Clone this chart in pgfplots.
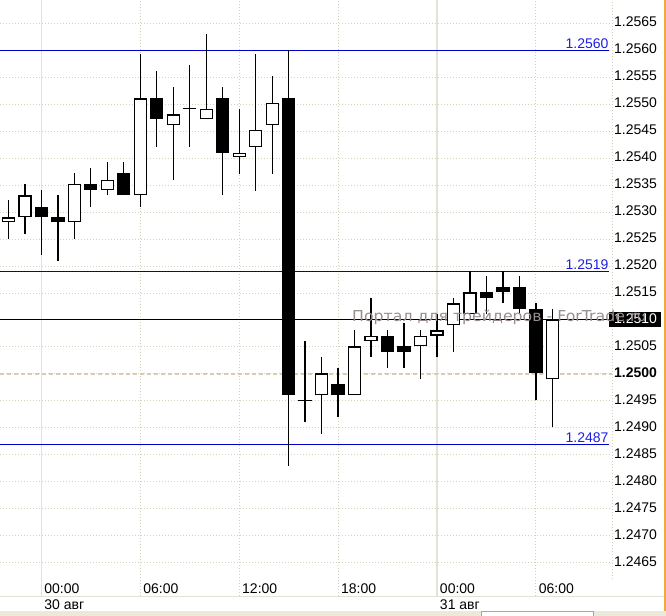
\documentclass[border=0pt]{standalone}
\usepackage{pgfplots}
\pgfplotsset{compat=1.18}
\usepackage{pgfplotstable}
\usepackage{fontspec}
\setmainfont{Liberation Sans}
\newfontfamily\wmfont{DejaVu Sans}
\definecolor{gridc}{RGB}{212,210,186}
\definecolor{dayc}{RGB}{228,226,212}
\definecolor{lvl}{RGB}{0,0,204}
\definecolor{lvltext}{RGB}{30,30,230}
\definecolor{wm}{RGB}{152,140,140}
\definecolor{pivot}{RGB}{214,206,168}
\definecolor{xpgrey}{RGB}{236,233,216}
\definecolor{orangec}{RGB}{240,170,60}

\pgfplotstableread{
x o h l c
-2 1.25281 1.25322 1.25251 1.25290
-1 1.25290 1.25352 1.25260 1.25331
0 1.25310 1.25341 1.25221 1.25290
1 1.25290 1.25331 1.25210 1.25281
2 1.25281 1.25372 1.25251 1.25352
3 1.25352 1.25382 1.25310 1.25341
4 1.25341 1.25392 1.25331 1.25360
5 1.25372 1.25392 1.25331 1.25331
6 1.25331 1.25593 1.25310 1.25511
7 1.25511 1.25562 1.25421 1.25472
8 1.25461 1.25531 1.25360 1.25481
9 1.25492 1.25573 1.25421 1.25492
10 1.25472 1.25631 1.25472 1.25492
11 1.25511 1.25531 1.25331 1.25410
12 1.25402 1.25492 1.25371 1.25410
13 1.25421 1.25593 1.25340 1.25452
14 1.25461 1.25552 1.25371 1.25502
15 1.25511 1.25600 1.24830 1.24960
16 1.24951 1.25061 1.24910 1.24951
17 1.24960 1.25031 1.24889 1.25001
18 1.24981 1.25011 1.24921 1.24960
19 1.24960 1.25081 1.24960 1.25051
20 1.25061 1.25140 1.25031 1.25071
21 1.25071 1.25081 1.25011 1.25041
22 1.25051 1.25094 1.25011 1.25041
23 1.25051 1.25081 1.24990 1.25071
24 1.25071 1.25111 1.25031 1.25081
25 1.25090 1.25140 1.25041 1.25131
26 1.25111 1.25191 1.25111 1.25151
27 1.25151 1.25182 1.25111 1.25140
28 1.25161 1.25191 1.25131 1.25151
29 1.25161 1.25182 1.25111 1.25121
30 1.25121 1.25131 1.24951 1.25001
31 1.24990 1.25121 1.24901 1.25101
}\candles

\begin{document}
\begin{tikzpicture}
\useasboundingbox (0,0) rectangle (666bp,616bp);
% bottom area
\fill[xpgrey] (0,0) rectangle (666bp,5.3bp);
\draw[gray!70, fill=white!95!xpgrey] (481bp,0) rectangle (593bp,5.3bp);
\draw[dayc, line width=1.2bp] (0,19.3bp) -- (664bp,19.3bp);
\draw[gridc, line width=1bp, dash pattern=on 1bp off 2bp] (612bp,37bp) -- (612bp,616bp);
\begin{scope}
\clip (0,0) rectangle (664bp,616bp);
\begin{axis}[
  at={(0,20bp)}, anchor=south west,
  scale only axis, width=612bp, height=596bp,
  xmin=-2.512, xmax=34.62, ymin=1.245883, ymax=1.256932,
  clip=false,
  axis line style={draw=none}, tick style={draw=none}, major tick length=0pt,
  ytick={1.2465,1.2470,1.2475,1.2480,1.2485,1.2490,1.2495,1.2500,1.2505,1.2510,1.2515,1.2520,1.2525,1.2530,1.2535,1.2540,1.2545,1.2550,1.2555,1.2560,1.2565},
  yticklabels={1.2465,1.2470,1.2475,1.2480,1.2485,1.2490,1.2495,{\bfseries 1.2500},1.2505,{},1.2515,1.2520,1.2525,1.2530,1.2535,1.2540,1.2545,1.2550,1.2555,1.2560,1.2565},
  yticklabel pos=right,
  yticklabel style={anchor=west, inner sep=0pt, xshift=2bp, yshift=1.5bp, font=\fontsize{14bp}{16bp}\selectfont},
  xtick={0,6,12,18,24,30},
  xticklabels={{00:00\\30 авг},06:00,12:00,18:00,{00:00\\31 авг},06:00},
  xticklabel style={anchor=north west, align=left, inner sep=0pt, xshift=2.8bp, yshift=12.7bp, font=\fontsize{14bp}{16.7bp}\selectfont},
  xmajorgrids, ymajorgrids,
  grid style={gridc, line width=1bp, dash pattern=on 1bp off 2bp},
]
% day separators
\draw[dayc, line width=1.3bp] (axis cs:0,1.245883) -- (axis cs:0,1.256932);
\draw[dayc, line width=1.3bp] (axis cs:24,1.245883) -- (axis cs:24,1.256932);
% pivot dashed line
\draw[pivot, line width=1.3bp, dash pattern=on 4bp off 3bp] (axis cs:-2.512,1.2500) -- (axis cs:34.62,1.2500);
% level lines
\draw[lvl, line width=1bp] (axis cs:-2.512,1.2560) -- (axis cs:34.45,1.2560);
\draw[lvl, line width=1bp] (axis cs:-2.512,1.2519) -- (axis cs:34.45,1.2519);
\draw[lvl, line width=1bp] (axis cs:-2.512,1.2487) -- (axis cs:34.45,1.2487);
\draw[black, line width=1bp] (axis cs:-2.512,1.2510) -- (axis cs:34.45,1.2510);
\node[anchor=base east, inner sep=0pt, text=lvltext, font=\fontsize{14bp}{16bp}\selectfont, yshift=2bp] at (axis cs:34.42,1.2560) {1.2560};
\node[anchor=base east, inner sep=0pt, text=lvltext, font=\fontsize{14bp}{16bp}\selectfont, yshift=2bp] at (axis cs:34.42,1.2519) {1.2519};
\node[anchor=base east, inner sep=0pt, text=lvltext, font=\fontsize{14bp}{16bp}\selectfont, yshift=2bp] at (axis cs:34.42,1.2487) {1.2487};
% wicks
\addplot[draw=none, forget plot, error bars/.cd, y dir=plus, y explicit, error mark=none,
  error bar style={draw=black, line width=1.3bp}]
  table[x=x, y=l, y error plus expr=\thisrow{h}-\thisrow{l}] {\candles};
% bodies (outer, black)
\addplot[draw=none, forget plot,
  restrict expr to domain={abs(\thisrow{c}-\thisrow{o})}{0.000005:1},
  error bars/.cd, y dir=plus, y explicit, error mark=none,
  error bar style={draw=black, line width=13.3bp}]
  table[x=x, y expr={min(\thisrow{o},\thisrow{c})}, y error plus expr={abs(\thisrow{c}-\thisrow{o})}] {\candles};
% white bodies (inner)
\addplot[draw=none, forget plot,
  restrict expr to domain={\thisrow{c}-\thisrow{o}}{0.000005:1},
  error bars/.cd, y dir=plus, y explicit, error mark=none,
  error bar style={draw=white, line width=10.7bp, shorten <=1.3bp, shorten >=1.3bp}]
  table[x=x, y=o, y error plus expr={\thisrow{c}-\thisrow{o}}] {\candles};
% doji
\addplot[only marks, forget plot, mark=-, mark size=6.65bp, mark options={draw=black, line width=1.3bp},
  restrict expr to domain={abs(\thisrow{c}-\thisrow{o})}{-1:0.000005}]
  table[x=x, y=o] {\candles};
\end{axis}
% current price box
\fill[black] (609bp,289bp) rectangle (661bp,304bp);
\node[anchor=west, inner sep=0pt, text=white, font=\fontsize{14bp}{16bp}\selectfont] at (614bp,297.5bp) {1.2510};
% watermark
\node[anchor=base west, inner sep=0pt, text=wm, font=\wmfont\fontsize{15bp}{17bp}\selectfont] at (352bp,294bp) {\scalebox{1.05}[1]{Портал для трейдеров - ForTrade.ru}};
\end{scope}
\draw[orangec, line width=1.6bp] (665bp,5.3bp) -- (665bp,616bp);
\end{tikzpicture}
\end{document}
